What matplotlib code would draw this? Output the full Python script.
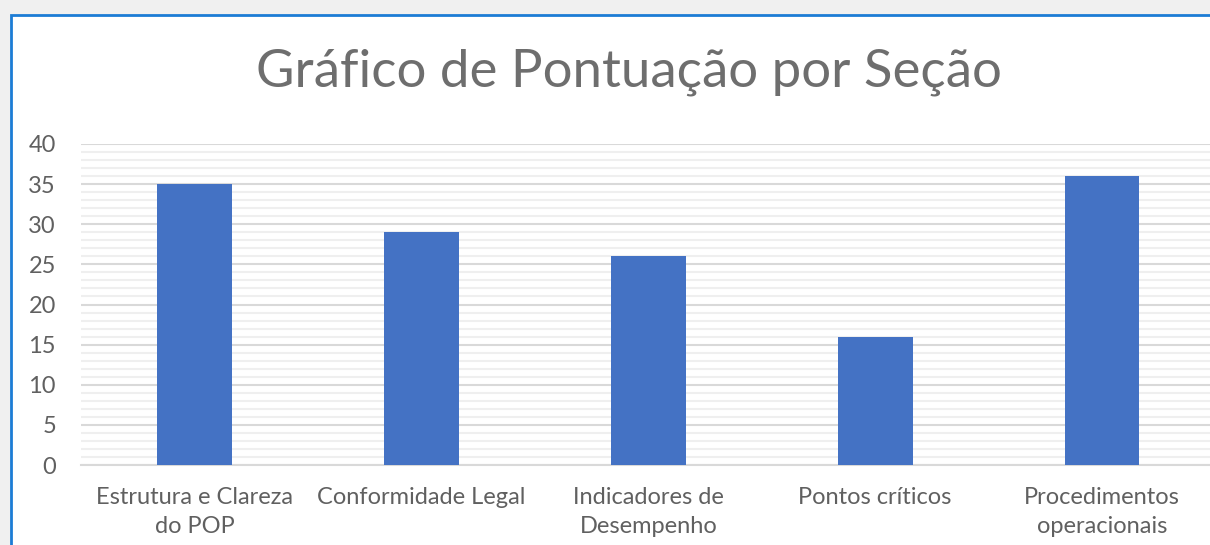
import matplotlib
import matplotlib.pyplot as plt
from matplotlib.patches import Rectangle
from matplotlib.ticker import MultipleLocator

matplotlib.use("Agg")

# Chart data
sections = [
    "Estrutura e Clareza\ndo POP",
    "Conformidade Legal",
    "Indicadores de\nDesempenho",
    "Pontos críticos",
    "Procedimentos\noperacionais",
]
scores = [35, 29, 26, 16, 36]
title = "Gráfico de Pontuação por Seção"

W, H = 1210, 545
fig = plt.figure(figsize=(W / 100, H / 100), dpi=100)
fig.patch.set_facecolor("#f0f0f0")

# White chart area with blue selection border (Excel look)
fig.patches.append(Rectangle((11 / W, -0.05), 1.05, (H - 15) / H + 0.05,
                             transform=fig.transFigure, facecolor="white",
                             edgecolor="#1c7cd5", linewidth=2, zorder=-5))

ax = fig.add_axes([81 / W, (H - 465) / H, (1215.5 - 81) / W, (465 - 144) / H])
ax.set_facecolor("none")
ax.set_zorder(2)

ax.bar(range(len(scores)), scores, width=0.33, color="#4472c4", zorder=3)

ax.set_xlim(-0.5, len(scores) - 0.5)
ax.set_ylim(0, 40)
ax.yaxis.set_major_locator(MultipleLocator(5))
ax.yaxis.set_minor_locator(MultipleLocator(1))
ax.grid(axis="y", which="major", color="#d9d9d9", linewidth=1.5, zorder=1)
ax.grid(axis="y", which="minor", color="#efefef", linewidth=1.5, zorder=1)

for side in ["left", "right", "top"]:
    ax.spines[side].set_visible(False)
ax.spines["bottom"].set_color("#d9d9d9")
ax.spines["bottom"].set_linewidth(1.5)

ax.set_xticks(range(len(sections)))
ax.set_xticklabels(sections, fontsize=17, color="#606060",
                   family="Lato", linespacing=1.45)
ax.tick_params(axis="x", length=0, pad=16)
ax.tick_params(axis="y", which="both", length=0, pad=18,
               labelsize=17, labelcolor="#606060")
for lbl in ax.get_yticklabels():
    lbl.set_family("Lato")

fig.text(629 / W, 1 - 72 / H, title, ha="center", va="center",
         fontsize=38, color="#6e6e6e", family="Lato")

fig.savefig("out.png", dpi=100, facecolor=fig.get_facecolor())
